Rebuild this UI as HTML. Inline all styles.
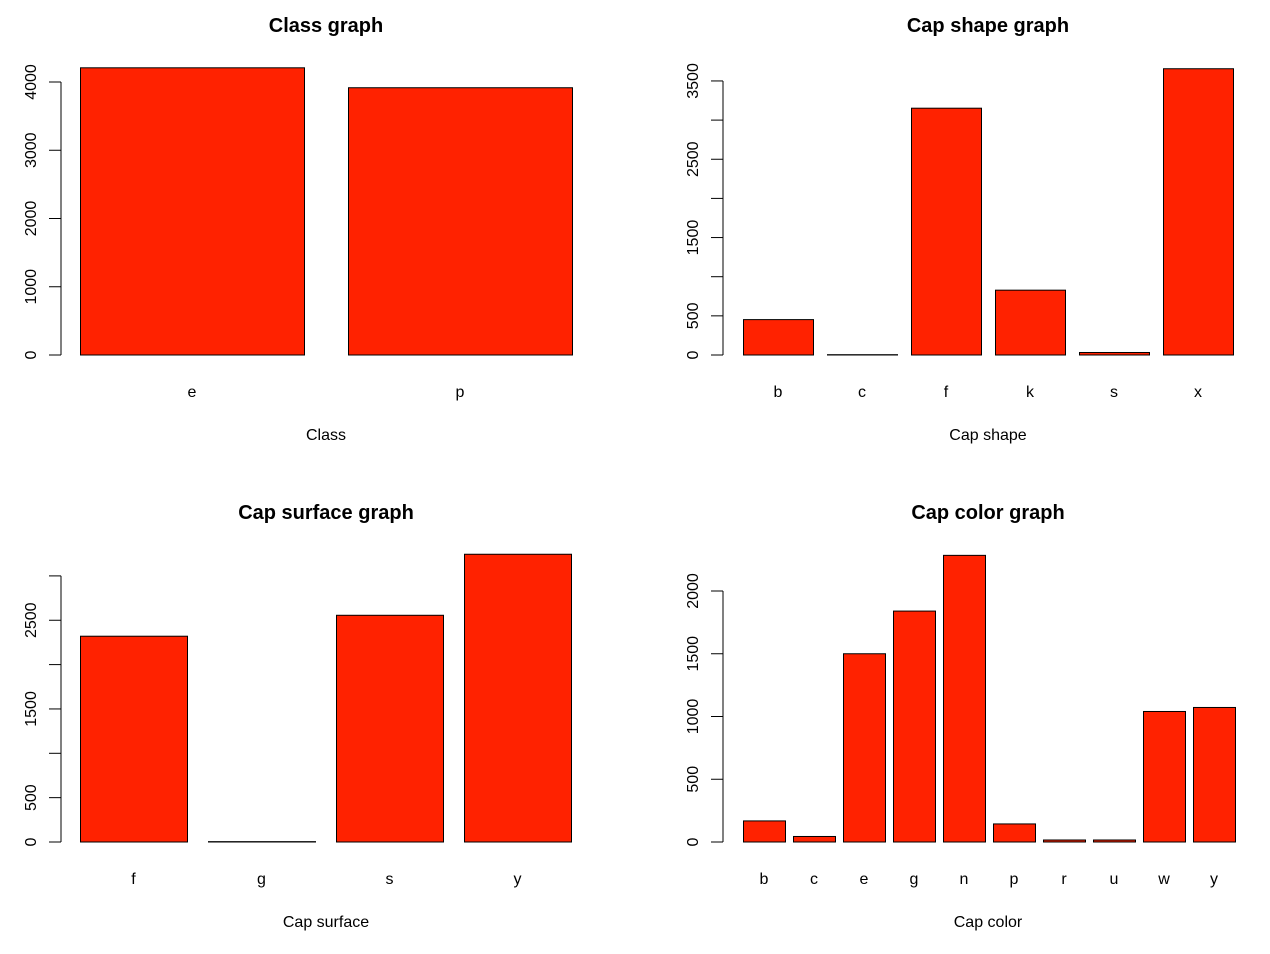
<!DOCTYPE html>
<html><head><meta charset="utf-8"><style>
html,body{margin:0;padding:0;background:#fff;}
svg{display:block;font-family:"Liberation Sans",Arial,sans-serif;}
</style></head><body>
<svg id="chart" width="1270" height="954" viewBox="0 0 1270 954" xmlns="http://www.w3.org/2000/svg"></svg>
<script>
const classCats = ["e","p"];
const classVals = [4208,3916];
const classTicks = [0,1000,2000,3000,4000];
const classTickLabels = ["0","1000","2000","3000","4000"];

const shapeCats = ["b","c","f","k","s","x"];
const shapeVals = [452,4,3152,828,32,3656];
const shapeTicks = [0,500,1000,1500,2000,2500,3000,3500];
const shapeTickLabels = ["0","500","","1500","","2500","","3500"];

const surfCats = ["f","g","s","y"];
const surfVals = [2320,4,2556,3244];
const surfTicks = [0,500,1000,1500,2000,2500,3000];
const surfTickLabels = ["0","500","","1500","","2500",""];

const colorCats = ["b","c","e","g","n","p","r","u","w","y"];
const colorVals = [168,44,1500,1840,2284,144,16,16,1040,1072];
const colorTicks = [0,500,1000,1500,2000];
const colorTickLabels = ["0","500","1000","1500","2000"];

const svg = document.getElementById('chart');
const NS = "http://www.w3.org/2000/svg";
function mk(tag, attrs, parent){
  const e = document.createElementNS(NS, tag);
  for (const k in attrs) e.setAttribute(k, attrs[k]);
  parent.appendChild(e);
  return e;
}

function panel(opt, cats, vals, ticks, tickLabels){
  const g = mk('g', {}, svg);
  
  
  const y = v => opt.y0 - v * opt.pxPer;
  const t = mk('text', {x: opt.cx, y: opt.titleY, 'text-anchor':'middle', 'font-size':20, 'font-weight':'bold', fill:'#000'}, g);
  t.textContent = opt.title;
  
  
  const ax = mk('g', {}, g);
  
  
  const top = y(ticks[ticks.length-1]);
  mk('line', {x1:opt.axisX, x2:opt.axisX, y1:opt.y0, y2:top, stroke:'#000'}, ax);
  ticks.forEach((v,i) => {
    mk('line', {x1:opt.axisX-12, x2:opt.axisX, y1:y(v), y2:y(v), stroke:'#000'}, ax);
    if (tickLabels[i]) {
      const tl = mk('text', {x:0, y:0, 'text-anchor':'middle', 'font-size':16, fill:'#000', transform:`translate(${opt.axisX-25},${y(v)}) rotate(-90)`}, ax);
      tl.textContent = tickLabels[i];
      
      
    }
  });
  cats.forEach((c,i) => {
    const x = opt.x0 + i * (opt.bw + opt.gap);
    const r = mk('rect', {x:x+0.5, y:y(vals[i]), width:opt.bw, height:opt.y0 - y(vals[i]), fill:'#ff2200', stroke:'#000', 'stroke-width':1}, g);
    
    
    const l = mk('text', {x:x + opt.bw/2, y:opt.y0+42, 'text-anchor':'middle', 'font-size':16, fill:'#000'}, g);
    l.textContent = c;
    
    
  });
  const xl = mk('text', {x: opt.cx, y: opt.y0+85, 'text-anchor':'middle', 'font-size':16, fill:'#000'}, g);
  xl.textContent = opt.xlabel;
  
  
}

panel({name:'class-graph', title:'Class graph', xlabel:'Class', cx:326, titleY:32, axisX:61, y0:355, pxPer:0.06825, x0:80, bw:224, gap:44}, classCats, classVals, classTicks, classTickLabels);
panel({name:'cap-shape-graph', title:'Cap shape graph', xlabel:'Cap shape', cx:988, titleY:32, axisX:723, y0:355, pxPer:0.0783, x0:743, bw:70, gap:14}, shapeCats, shapeVals, shapeTicks, shapeTickLabels);
panel({name:'cap-surface-graph', title:'Cap surface graph', xlabel:'Cap surface', cx:326, titleY:519, axisX:61, y0:842, pxPer:0.0887, x0:80, bw:107, gap:21}, surfCats, surfVals, surfTicks, surfTickLabels);
panel({name:'cap-color-graph', title:'Cap color graph', xlabel:'Cap color', cx:988, titleY:519, axisX:723, y0:842, pxPer:0.1255, x0:743, bw:42, gap:8}, colorCats, colorVals, colorTicks, colorTickLabels);
</script>
</body></html>
